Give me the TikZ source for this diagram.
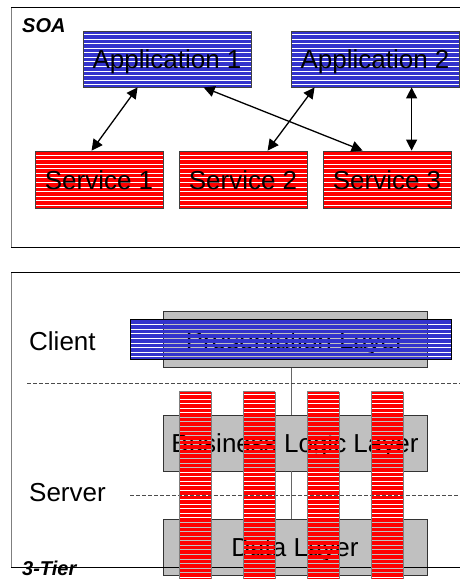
\documentclass[tikz,border=0pt]{standalone}
\usepackage{fontspec}
\setmainfont{Liberation Sans}
\usetikzlibrary{arrows.meta,calc}
\definecolor{soablue}{HTML}{3333CC}
\definecolor{soared}{HTML}{FF0000}
\definecolor{boxgray}{HTML}{C0C0C0}
\definecolor{edgegray}{HTML}{7F7F7F}
% striped bar with transparent gaps: x1 y1 x2 y2 color firstgap count
\newcommand\stripbar[7]{%
  \fill[#5] (#1,#2) rectangle (#3,#6);
  \foreach \k in {0,...,#7}{\fill[#5] (#1,{#6+\k*4.57+1}) rectangle (#3,{min(#6+(\k+1)*4.57,#4)});}}
\begin{document}
\begin{tikzpicture}[x=1pt,y=-1pt,
  lbl/.style={font=\fontsize{26}{30}\selectfont, inner sep=0pt, text height=19pt, text depth=0pt},
  gaps/.style={path picture={\foreach \k in {0,...,11}{
      \draw[white,line width=0.9pt]
        ([yshift={-(#1+\k*4.57)*1pt}]path picture bounding box.north west) --
        ([yshift={-(#1+\k*4.57)*1pt}]path picture bounding box.north east);}}},
  appbox/.style={lbl, fill=soablue, draw=black!75, line width=0.8pt, minimum width=168pt, minimum height=56pt, gaps=3.5},
  srvbox/.style={lbl, fill=soared, draw=black!75, line width=0.8pt, minimum width=128pt, minimum height=57pt, gaps=4},
  graybox/.style={lbl, fill=boxgray, draw=black!80, line width=0.8pt, minimum width=264pt, minimum height=56pt},
  arr/.style={{Triangle[length=11pt,width=11pt]}-{Triangle[length=11pt,width=11pt]}, line width=1.3pt},
  title/.style={font=\fontsize{20}{24}\selectfont\bfseries\itshape, inner sep=0pt, anchor=base west},
  side/.style={font=\fontsize{26}{30}\selectfont, inner sep=0pt, anchor=base west},
  tierline/.style={dashed, dash pattern=on 4pt off 2pt, draw=black!70, line width=0.8pt},
  frameline/.style={draw=black, line width=1pt},
  frameside/.style={draw=edgegray, line width=1pt}]
\useasboundingbox (0,0) rectangle (460,579);
\clip (0,0) rectangle (460,579);

% ---------- SOA frame ----------
\coordinate (ft1) at (11,7);
\coordinate (ft2) at (470,7);
\coordinate (fb1) at (11,247);
\coordinate (fb2) at (470,247);
\draw[frameside] (ft1) -- (fb1);
\draw[frameline] (ft1) -- (ft2);
\draw[frameline] (fb1) -- (fb2);
\node[title] (soa) at (22,32) {SOA};

% applications
\node[appbox] (app1) at (167,59) {Application 1};
\node[appbox] (app2) at (375,59) {Application 2};

% services
\node[srvbox] (s1) at (99,179.5) {Service 1};
\node[srvbox] (s2) at (243,179.5) {Service 2};
\node[srvbox] (s3) at (387,179.5) {Service 3};

% connectors
\draw[arr] ([xshift=55pt]app1.south west) -- ([xshift=57pt]s1.north west);
\draw[arr] ([xshift=121pt]app1.south west) -- ([xshift=40pt]s3.north west);
\draw[arr] ([xshift=24pt]app2.south west) -- ([xshift=89pt]s2.north west);
\draw[arr] ([xshift=121pt]app2.south west) -- ([xshift=89pt]s3.north west);

% ---------- 3-Tier frame ----------
\node[graybox] (pres) at (295,339.5) {Presentation Layer};
\node[graybox] (bll) at (295,443) {Business Logic Layer};
\node[graybox] (dl) at (295,547) {Data Layer};
\draw[draw=black!60, line width=1pt] ([xshift=-4pt]pres.south) -- ([xshift=-4pt]bll.north);
\draw[draw=black!60, line width=1pt] ([xshift=-4pt]bll.south) -- ([xshift=-4pt]dl.north);

\coordinate (d1a) at (27,383);
\coordinate (d1b) at (460,383);
\coordinate (d2a) at (130,495);
\coordinate (d2b) at (460,495);
\draw[tierline] (d1a) -- (d1b);
\draw[tierline] (d2a) -- (d2b);

\node[side] (client) at (29,350) {Client};
\node[side] (server) at (29,501.5) {Server};

\coordinate (gt1) at (11,272);
\coordinate (gt2) at (470,272);
\coordinate (gb1) at (11,567);
\coordinate (gb2) at (470,567);
\draw[frameside] (gt1) -- (gb1);
\draw[frameline] (gt1) -- (gt2);
\draw[frameline] (gb1) -- (gb2);

% presentation bar (blue, transparent gaps)
\stripbar{130}{319}{451}{359}{soablue}{324.3}{7}
\node[draw=black, line width=0.9pt, minimum width=321pt, minimum height=40pt, inner sep=0pt] (pbar) at (290.5,339) {};

% red service columns
\foreach \xx [count=\i] in {179,243,307,371}{
  \stripbar{\xx}{391.7}{\xx+32}{600}{soared}{394}{45}
  \draw[draw=edgegray, line width=0.9pt] (\xx,391.7) -- (\xx,600) (\xx+32,391.7) -- (\xx+32,600) (\xx,391.7) -- (\xx+32,391.7);
}

\node[title] (tier) at (22,575) {3-Tier};
\end{tikzpicture}
\end{document}
